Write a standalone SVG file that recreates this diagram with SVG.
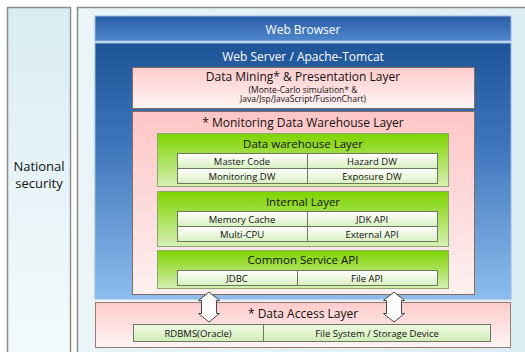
<svg xmlns="http://www.w3.org/2000/svg" width="525" height="352" viewBox="0 0 525 352">
<defs>
<linearGradient id="gPanel" x1="0" y1="0" x2="0" y2="1"><stop offset="0" stop-color="#d9edf2"/><stop offset="1" stop-color="#f4fafc"/></linearGradient>
<linearGradient id="gPanel2" x1="0" y1="0" x2="1" y2="0"><stop offset="0" stop-color="#eaf5f8"/><stop offset="1" stop-color="#dbeef3"/></linearGradient>
<linearGradient id="gBrowser" x1="0" y1="0" x2="0" y2="1"><stop offset="0" stop-color="#2a5ea6"/><stop offset="1" stop-color="#4f86cc"/></linearGradient>
<linearGradient id="gServer" x1="0" y1="0" x2="0" y2="1"><stop offset="0" stop-color="#1e5498"/><stop offset="0.4" stop-color="#3f76bb"/><stop offset="1" stop-color="#8dbdee"/></linearGradient>
<linearGradient id="gPink" x1="0" y1="0" x2="0" y2="1"><stop offset="0" stop-color="#ffcccc"/><stop offset="1" stop-color="#fff4f4"/></linearGradient>
<linearGradient id="gPink2" x1="0" y1="0" x2="0" y2="1"><stop offset="0" stop-color="#ffc6c6"/><stop offset="1" stop-color="#fdf0f0"/></linearGradient>
<linearGradient id="gGreen" x1="0" y1="0" x2="0" y2="1"><stop offset="0" stop-color="#7ed400"/><stop offset="1" stop-color="#d6efb4"/></linearGradient>
<linearGradient id="gCell" x1="0" y1="0" x2="0" y2="1"><stop offset="0" stop-color="#ffffff"/><stop offset="1" stop-color="#d8f0c0"/></linearGradient>
<linearGradient id="gCell2" x1="0" y1="0" x2="0" y2="1"><stop offset="0" stop-color="#eef9e2"/><stop offset="1" stop-color="#d2edb8"/></linearGradient>
</defs>
<style>
text{font-family:"Open Sans","Noto Sans","DejaVu Sans",sans-serif;text-anchor:middle;fill:#111}
.w{fill:#fff}
.t12{font-size:12px}
.t11{font-size:11.5px}
.t9{font-size:8.5px}
.c{font-size:9.5px}
.pink{stroke:#8a6a5a;stroke-width:1}
.green{stroke:#8aa870;stroke-width:1}
.cell{fill:url(#gCell);stroke:#6c7860;stroke-width:1}
.arr{fill:#fff;stroke:#444;stroke-width:1}
</style>
<rect width="525" height="352" fill="#fff"/>
<g id="national">
<rect x="7.5" y="7.5" width="63" height="350" fill="url(#gPanel)" stroke="#8c8c8c" stroke-width="1.5"/>
<text x="39" y="171" font-size="13">National</text>
<text x="39" y="188" font-size="13">security</text>
</g>
<g id="system">
<rect x="77.5" y="7.5" width="455" height="350" fill="url(#gPanel2)" stroke="#8c8c8c" stroke-width="1.5"/>
</g>
<g id="browser">
<rect x="95" y="16" width="416" height="25" fill="url(#gBrowser)" stroke="#9bb8dc" stroke-width="1"/>
<text x="303" y="34" class="t12 w">Web Browser</text>
</g>
<g id="server">
<rect x="95" y="43" width="416" height="256" fill="url(#gServer)" stroke="#9bb8dc" stroke-width="1"/>
<text x="303" y="61" class="t12 w">Web Server / Apache-Tomcat</text>
</g>
<g id="mining">
<rect x="132.5" y="67.5" width="342" height="41" fill="url(#gPink)" class="pink"/>
<text x="303" y="80.5" class="t12">Data Mining* &amp; Presentation Layer</text>
<text x="303" y="92.5" class="t9">(Monte-Carlo simulation* &amp;</text>
<text x="303" y="102" class="t9">Java/Jsp/JavaScript/FusionChart)</text>
</g>
<g id="monitoring">
<rect x="132.5" y="111.5" width="342" height="183" fill="url(#gPink2)" class="pink"/>
<text x="303" y="127" class="t12">* Monitoring Data Warehouse Layer</text>
</g>
<g id="dw">
<rect x="157.5" y="133.5" width="291" height="53" fill="url(#gGreen)" class="green"/>
<text x="303" y="147.5" class="t11">Data warehouse Layer</text>
<rect x="177.5" y="153.5" width="130" height="15" class="cell"/>
<rect x="307.5" y="153.5" width="130" height="15" class="cell"/>
<rect x="177.5" y="168.5" width="130" height="15" class="cell"/>
<rect x="307.5" y="168.5" width="130" height="15" class="cell"/>
<text x="242" y="164.5" class="c">Master Code</text>
<text x="372" y="164.5" class="c">Hazard DW</text>
<text x="242" y="179.5" class="c">Monitoring DW</text>
<text x="372" y="179.5" class="c">Exposure DW</text>
</g>
<g id="internal">
<rect x="157.5" y="191.5" width="291" height="55" fill="url(#gGreen)" class="green"/>
<text x="303" y="206" class="t11">Internal Layer</text>
<rect x="177.5" y="211.5" width="130" height="15" class="cell"/>
<rect x="307.5" y="211.5" width="130" height="15" class="cell"/>
<rect x="177.5" y="226.5" width="130" height="15" class="cell"/>
<rect x="307.5" y="226.5" width="130" height="15" class="cell"/>
<text x="242" y="222.5" class="c">Memory Cache</text>
<text x="372" y="222.5" class="c">JDK API</text>
<text x="242" y="237.5" class="c">Multi-CPU</text>
<text x="372" y="237.5" class="c">External API</text>
</g>
<g id="common">
<rect x="157.5" y="250.5" width="291" height="38" fill="url(#gGreen)" class="green"/>
<text x="303" y="264" class="t11">Common Service API</text>
<rect x="177.5" y="270.5" width="120" height="15" class="cell"/>
<rect x="297.5" y="270.5" width="140" height="15" class="cell"/>
<text x="237" y="281.5" class="c">JDBC</text>
<text x="367" y="281.5" class="c">File API</text>
</g>
<g id="access">
<rect x="95.5" y="302.5" width="415" height="45" fill="url(#gPink)" stroke="#9a7a6a" stroke-width="1"/>
<text x="303" y="318" class="t12">* Data Access Layer</text>
<rect x="133.5" y="324.5" width="130" height="17" fill="url(#gCell2)" stroke="#6c7860"/>
<rect x="263.5" y="324.5" width="227" height="17" fill="url(#gCell2)" stroke="#6c7860"/>
<text x="198" y="337" class="c">RDBMS(Oracle)</text>
<text x="377" y="337" class="c">File System / Storage Device</text>
</g>
<g id="connectors">
<path class="arr" d="M209,292 L219.5,300.5 L216.5,300.5 L216.5,313.5 L219.5,313.5 L209,322 L198.5,313.5 L201.5,313.5 L201.5,300.5 L198.5,300.5 Z"/>
<path class="arr" d="M394,292 L404.5,300.5 L401.5,300.5 L401.5,313.5 L404.5,313.5 L394,322 L383.5,313.5 L386.5,313.5 L386.5,300.5 L383.5,300.5 Z"/>
</g>
</svg>
